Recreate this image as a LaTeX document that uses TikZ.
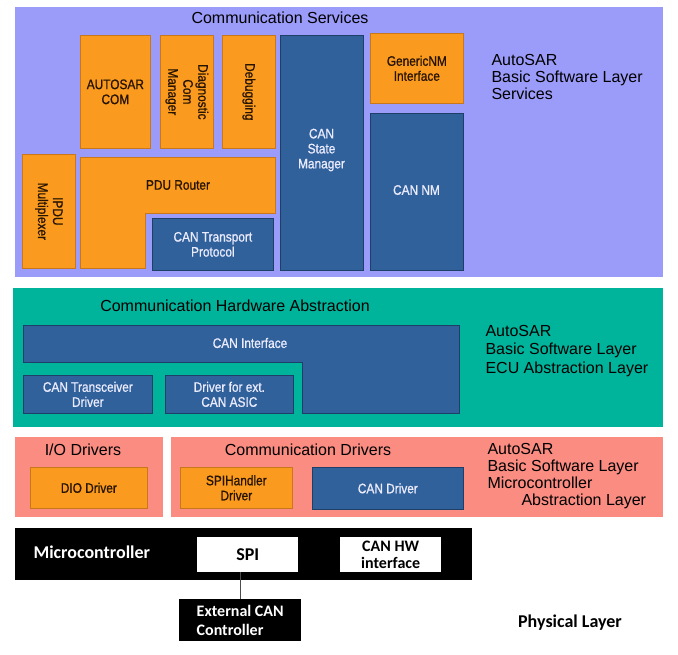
\documentclass[tikz,border=0pt]{standalone}
\usepackage{fontspec}
\setmainfont{Liberation Sans}
\newfontfamily\narrowfont[FakeStretch=0.86,FakeBold=0.9]{Liberation Sans}
\newfontfamily\calfont{Carlito}
\definecolor{purpleC}{HTML}{9B9BFA}
\definecolor{tealC}{HTML}{00B39B}
\definecolor{pinkC}{HTML}{FA8C82}
\definecolor{orangeC}{HTML}{FA9A1E}
\definecolor{orangeD}{HTML}{C8781A}
\definecolor{blueC}{HTML}{30619A}
\definecolor{blueD}{HTML}{1E3F68}
\tikzset{
  panel/.style={inner sep=0pt, anchor=north west},
  obox/.style={fill=orangeC, draw=orangeD, line width=0.7pt, inner sep=0pt, anchor=north west},
  bbox/.style={fill=blueC, draw=blueD, line width=0.7pt, inner sep=0pt, anchor=north west},
  otext/.style={font=\narrowfont\fontsize{13.8}{15}\selectfont, text=black!85!orange, align=center},
  btext/.style={font=\narrowfont\fontsize{13.8}{15}\selectfont, text=white!92!blue, align=center},
  title/.style={font=\fontsize{16}{17}\selectfont, text=black},
  side/.style={font=\fontsize{16}{17}\selectfont, text=black, align=left, anchor=west},
  mcu/.style={font=\calfont\bfseries\fontsize{16}{17}\selectfont, align=center},
}
\begin{document}
\begin{tikzpicture}[x=1pt,y=-1pt]
\useasboundingbox (0,0) rectangle (678,654);
% ---------- Services panel ----------
\node[panel, fill=purpleC, minimum width=648pt, minimum height=270pt] (svc) at (15,7) {};
\node[title] (svct) at (280,18) {Communication Services};
\node[side] (svcl) at (488,77) {AutoSAR\\Basic Software Layer\\Services};

\node[obox, minimum width=70pt, minimum height=113pt] (com) at (80,35) {};
\node[otext] (comt) at (com.center) {AUTOSAR\\COM};
\node[obox, minimum width=53pt, minimum height=113pt] (dcm) at (160,35) {};
\node[otext, rotate=-90] (dcmt) at (dcm.center) {Diagnostic\\Com\\Manager};
\node[obox, minimum width=53pt, minimum height=113pt] (dbg) at (222,35) {};
\node[otext, rotate=-90] (dbgt) at (dbg.center) {Debugging};
\node[bbox, minimum width=83pt, minimum height=235pt] (csm) at (280,35) {};
\node[btext] (csmt) at (321.5,150) {CAN\\State\\Manager};
\node[obox, minimum width=93pt, minimum height=70pt] (gnm) at (370,33) {};
\node[otext] (gnmt) at (gnm.center) {GenericNM\\Interface};
\node[bbox, minimum width=93pt, minimum height=157pt] (cnm) at (370,113) {};
\node[btext] (cnmt) at (416.5,190) {CAN NM};
\node[obox, minimum width=53pt, minimum height=114pt] (ipdu) at (22,154) {};
\node[otext, rotate=-90] (ipdut) at (ipdu.center) {IPDU\\Multiplexer};
\filldraw[fill=orangeC, draw=orangeD, line width=0.7pt]
  (80,157) -- (275,157) -- (275,213) -- (145,213) -- (145,268) -- (80,268) -- cycle;
\node[otext] (pdut) at (178,185) {PDU Router};
\node[bbox, minimum width=121pt, minimum height=52pt] (ctp) at (152,218) {};
\node[btext] (ctpt) at (ctp.center) {CAN Transport\\Protocol};

% ---------- ECU abstraction panel ----------
\node[panel, fill=tealC, minimum width=650pt, minimum height=139pt] (ecu) at (13,288) {};
\node[title] (ecut) at (235,306) {Communication Hardware Abstraction};
\node[side, font=\fontsize{16}{18.5}\selectfont] (ecul) at (482,351) {AutoSAR\\Basic Software Layer\\ECU Abstraction Layer};
\filldraw[fill=blueC, draw=blueD, line width=0.7pt]
  (23,325) -- (459,325) -- (459,413) -- (302,413) -- (302,362) -- (23,362) -- cycle;
\node[btext] (canift) at (250,343) {CAN Interface};
\node[bbox, minimum width=129pt, minimum height=38pt] (ctd) at (23,375) {};
\node[btext] (ctdt) at (ctd.center) {CAN Transceiver\\Driver};
\node[bbox, minimum width=128pt, minimum height=38pt] (dea) at (165,375) {};
\node[btext] (deat) at (dea.center) {Driver for ext.\\CAN ASIC};

% ---------- MCAL panels ----------
\node[panel, fill=pinkC, minimum width=148pt, minimum height=80pt] (iod) at (15,437) {};
\node[title] (iodt) at (83,450) {I/O Drivers};
\node[panel, fill=pinkC, minimum width=492pt, minimum height=80pt] (cdr) at (171,437) {};
\node[title] (cdrt) at (308,450) {Communication Drivers};
\node[side] (mcall) at (484,476) {AutoSAR\\Basic Software Layer\\Microcontroller\\\hspace*{34pt}Abstraction Layer};
\node[obox, minimum width=117pt, minimum height=41pt] (dio) at (30,467) {};
\node[otext] (diot) at (dio.center) {DIO Driver};
\node[obox, minimum width=112pt, minimum height=41pt] (spih) at (180,467) {};
\node[otext] (spiht) at (spih.center) {SPIHandler\\Driver};
\node[bbox, minimum width=151pt, minimum height=42pt] (cand) at (312,467) {};
\node[btext] (candt) at (cand.center) {CAN Driver};

% ---------- Microcontroller ----------
\node[panel, fill=black, minimum width=457pt, minimum height=52pt] (mc) at (15,528) {};
\node[mcu, text=white, anchor=west, font=\calfont\bfseries\fontsize{18}{19}\selectfont] (mct) at (30,552) {Microcontroller};
\node[panel, fill=white, minimum width=101pt, minimum height=35pt, mcu, font=\calfont\bfseries\fontsize{18}{19}\selectfont] (spi) at (197,537) {SPI};
\node[panel, fill=white, minimum width=101pt, minimum height=35pt, mcu] (canhw) at (340,537) {CAN HW\\interface};
\node[panel, fill=black, text=white, minimum width=122pt, minimum height=42pt, font=\calfont\bfseries\fontsize{16}{19}\selectfont, align=left] (ext) at (179,599) {External CAN\\Controller};
\draw[black!70, line width=0.8pt] (ext.north) -- (ext.north |- spi.south);
\node[mcu, font=\calfont\bfseries\fontsize{18}{19}\selectfont] (phy) at (570,623) {Physical Layer};
\end{tikzpicture}
\end{document}
